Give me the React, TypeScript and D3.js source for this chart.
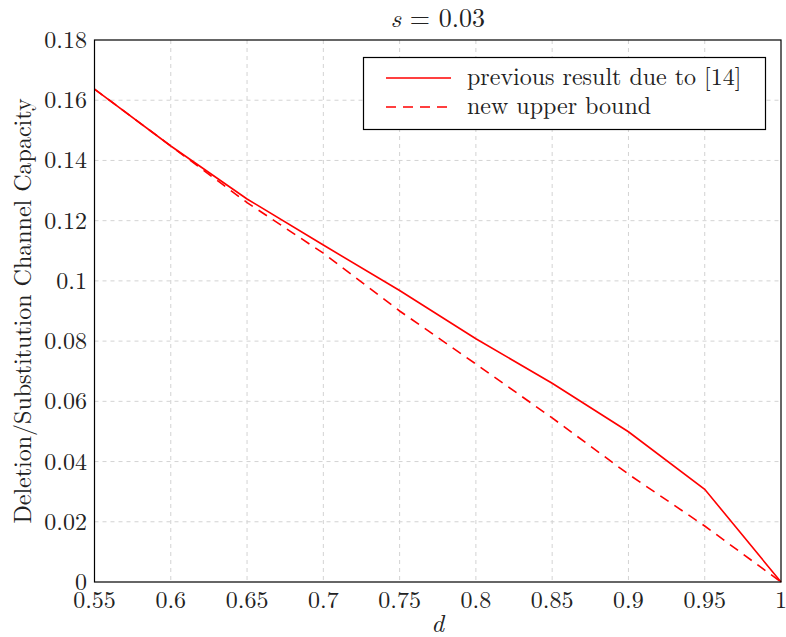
import React from "react";
import * as d3 from "d3";

const dValues = [0.55, 0.6, 0.65, 0.7, 0.75, 0.8, 0.85, 0.9, 0.95, 1.0];
const previousResult = [0.1637, 0.1448, 0.1272, 0.1119, 0.0968, 0.0808, 0.0660, 0.0499, 0.0308, 0.0];
const newUpperBound = [0.1637, 0.1448, 0.1260, 0.1092, 0.0900, 0.0724, 0.0545, 0.0358, 0.0186, 0.0];
const xTicks = [0.55, 0.6, 0.65, 0.7, 0.75, 0.8, 0.85, 0.9, 0.95, 1];
const yTicks = [0, 0.02, 0.04, 0.06, 0.08, 0.1, 0.12, 0.14, 0.16, 0.18];
const seriesNames = ["previous result due to [14]", "new upper bound"];

const W = 786, H = 637;
const M = { left: 94.5, right: 781, top: 40, bottom: 582 };
const FONT = "'Latin Modern Roman', 'CMU Serif', 'Liberation Serif', 'DejaVu Serif', serif";
const FS = 24;

export default function App() {
  const x = d3.scaleLinear().domain([0.55, 1]).range([M.left, M.right]);
  const y = d3.scaleLinear().domain([0, 0.18]).range([M.bottom, M.top]);
  const line = d3.line<number>().x((_, i) => x(dValues[i])).y((v) => y(v));
  const fmt = (v: number) => (v === 0 ? "0" : v === 1 ? "1" : String(+v.toFixed(2)));

  return (
    <svg width={W} height={H} style={{ position: "absolute", left: 0, top: 0, background: "#fff" }} fontFamily={FONT}>
      {xTicks.slice(1, -1).map((t) => (
        <line key={"gx" + t} x1={x(t)} x2={x(t)} y1={M.top} y2={M.bottom} stroke="#d3d3d3" strokeWidth={1} strokeDasharray="4,4" />
      ))}
      {yTicks.slice(1, -1).map((t) => (
        <line key={"gy" + t} x1={M.left} x2={M.right} y1={y(t)} y2={y(t)} stroke="#d3d3d3" strokeWidth={1} strokeDasharray="4,4" />
      ))}
      <path d={line(previousResult) || ""} fill="none" stroke="#ff0000" strokeWidth={1.6} />
      <path d={line(newUpperBound) || ""} fill="none" stroke="#ff0000" strokeWidth={1.6} strokeDasharray="10,7" />
      <rect x={M.left} y={M.top} width={M.right - M.left} height={M.bottom - M.top} fill="none" stroke="#000" strokeWidth={1.2} />
      {xTicks.map((t) => (
        <text key={"tx" + t} x={x(t)} y={608} textAnchor="middle" fontSize={FS} fill="#222">{fmt(t)}</text>
      ))}
      {yTicks.map((t) => (
        <text key={"ty" + t} x={87} y={y(t) + 8} textAnchor="end" fontSize={FS} fill="#222">{fmt(t)}</text>
      ))}
      <text x={(M.left + M.right) / 2} y={632} textAnchor="middle" fontSize={25} fontStyle="italic" fill="#222">d</text>
      <text transform={`translate(31,${(M.top + M.bottom) / 2}) rotate(-90)`} textAnchor="middle" fontSize={FS} fill="#222">
        Deletion/Substitution Channel Capacity
      </text>
      <text x={(M.left + M.right) / 2} y={27} textAnchor="middle" fontSize={26} fill="#222">
        <tspan fontStyle="italic">s</tspan>
        <tspan> = 0.03</tspan>
      </text>
      <rect x={363.5} y={57.5} width={402} height={72} fill="#fff" stroke="#000" strokeWidth={1.2} />
      <line x1={386} x2={451} y1={78} y2={78} stroke="#ff0000" strokeWidth={1.6} />
      <line x1={386} x2={451} y1={107} y2={107} stroke="#ff0000" strokeWidth={1.6} strokeDasharray="10,7" />
      <text x={467} y={85} fontSize={FS} fill="#222">{seriesNames[0]}</text>
      <text x={467} y={114} fontSize={FS} fill="#222">{seriesNames[1]}</text>
    </svg>
  );
}
